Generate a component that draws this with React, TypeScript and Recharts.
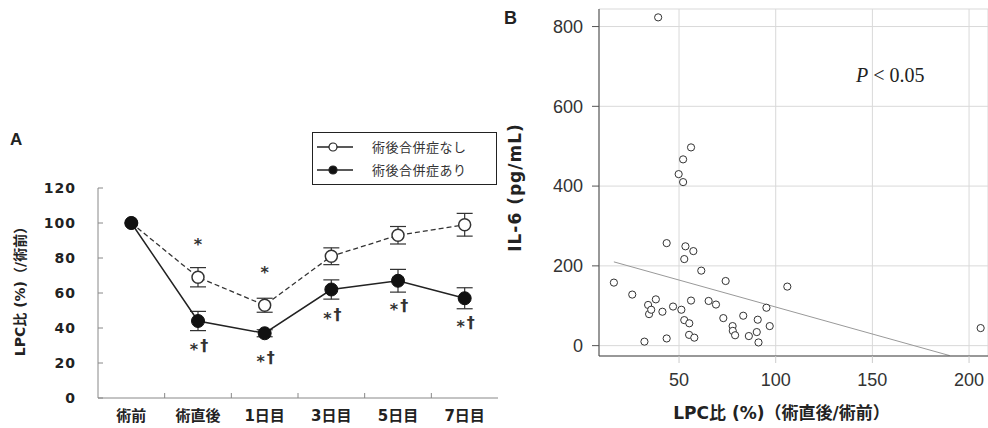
import { CartesianGrid, ErrorBar, Label, Legend, Line, LineChart, ReferenceLine, Scatter, ScatterChart, XAxis, YAxis } from "recharts"

// panel A: LPC ratio over time
const timepoints = ["術前", "術直後", "1日目", "3日目", "5日目", "7日目"]
const noComplication = [100, 69, 53, 81, 93, 99]
const noComplicationSd = [0, 5.5, 4, 4.8, 5, 6.5]
const withComplication = [100, 44, 37, 62, 67, 57]
const withComplicationSd = [0, 5.5, 2, 5.5, 6.5, 6]
const noComplicationMarks = ["", "*", "*", "", "", ""]
const withComplicationMarks = ["", "*†", "*†", "*†", "*†", "*†"]
const seriesNames = ["術後合併症なし", "術後合併症あり"]
const yTicksA = [0, 20, 40, 60, 80, 100, 120]

// panel B: LPC ratio vs IL-6
const lpcRatio = [
  16.3, 25.8, 32.1, 34.0, 34.5, 35.6, 38.0, 41.4, 43.6, 43.6, 46.9, 51.2, 52.7, 53.3,
  52.7, 55.3, 55.2, 56.2, 57.4, 57.9, 61.5, 65.3, 69.1, 72.9, 74.1, 77.7, 77.8, 79.0,
  83.2, 86.1, 90.2, 90.7, 91.1, 95.2, 96.9, 106.0, 206.0, 39.2, 56.2, 52.1, 49.8, 52.1,
]
const il6 = [
  158, 128, 10, 102, 79, 90, 116, 85, 257, 18, 98, 90, 217, 249,
  64, 56, 27, 113, 237, 20, 188, 112, 103, 69, 162, 49, 37, 26,
  75, 24, 34, 65, 8, 95, 49, 148, 44, 823, 497, 467, 430, 410,
]
const fitLine = [
  { x: 16.3, y: 210 },
  { x: 190, y: -25 },
]
const xTicksB = [50, 100, 150, 200]
const yTicksB = [0, 200, 400, 600, 800]

const dataA = timepoints.map((t, i) => ({
  t,
  no: noComplication[i],
  noSd: noComplicationSd[i],
  noMark: noComplicationMarks[i],
  yes: withComplication[i],
  yesSd: withComplicationSd[i],
  yesMark: withComplicationMarks[i],
}))

const dataB = lpcRatio.map((x, i) => ({ x, y: il6[i] }))

const CJK = "'DejaVu Sans', 'Noto Sans CJK JP', sans-serif"
const widthA = 500
const yAxisWidthA = 98
const plotWidthA = widthA - yAxisWidthA - 2
const halfBand = plotWidthA / timepoints.length / 2

function CategoryTick(props: any) {
  const { x, y, payload, index } = props
  return (
    <g>
      {index < timepoints.length - 1 && (
        <line x1={x + halfBand} x2={x + halfBand} y1={y} y2={y - 5} stroke="#888" />
      )}
      <text x={x} y={y + 18} textAnchor="middle" dominantBaseline="central" fontSize={15} fontWeight="bold" fill="#222" fontFamily={CJK}>
        {payload.value}
      </text>
    </g>
  )
}

function ValueTick(props: any) {
  const { x, y, payload } = props
  return (
    <g>
      <line x1={x} x2={x + 5} y1={y} y2={y} stroke="#888" />
      <text x={x - 22} y={y} textAnchor="end" dominantBaseline="central" fontSize={14} fontWeight="bold" letterSpacing={1} fill="#222" fontFamily="'DejaVu Sans', sans-serif">
        {payload.value}
      </text>
    </g>
  )
}

// star sits lower than the dagger, as in the printed figure
function Mark({ x, y, text }: { x: number; y: number; text: string }) {
  const [star, ...rest] = Array.from(text)
  return (
    <text x={x} y={y + 5} textAnchor="middle" fontSize={16} fontWeight="bold" fill="#333" fontFamily={CJK}>
      <tspan dy={4}>{star}</tspan>
      {rest.length > 0 && (
        <tspan dx={2} dy={-4}>
          {rest.join("")}
        </tspan>
      )}
    </text>
  )
}

const openDot = (p: any) => (
  <g key={`o-${p.index}`}>
    <circle cx={p.cx} cy={p.cy} r={6} fill="#fff" stroke="#333" strokeWidth={1.5} />
    {p.payload.noMark ? <Mark x={p.cx} y={p.cy - 36} text={p.payload.noMark} /> : null}
  </g>
)

const filledDot = (p: any) => (
  <g key={`f-${p.index}`}>
    <circle cx={p.cx} cy={p.cy} r={6.5} fill="#111" stroke="#111" strokeWidth={1} />
    {p.payload.yesMark ? <Mark x={p.cx + 1} y={p.cy + 25} text={p.payload.yesMark} /> : null}
  </g>
)

function LegendBox() {
  return (
    <div style={{ border: "1.5px solid #222", boxSizing: "border-box", width: 185, height: 53, paddingTop: 2, background: "#fff" }}>
      {seriesNames.map((name, i) => (
        <div key={name} style={{ display: "flex", alignItems: "center", height: 23 }}>
          <svg width={40} height={12} style={{ marginLeft: 4 }}>
            <line x1={0} x2={36} y1={6} y2={6} stroke="#222" strokeWidth={1.4} />
            <circle cx={16} cy={6} r={4} fill={i === 0 ? "#fff" : "#111"} stroke="#222" strokeWidth={1.2} />
          </svg>
          <span style={{ marginLeft: 15, fontSize: 13, color: "#333", fontFamily: "'Noto Sans CJK JP', sans-serif", lineHeight: "13px", letterSpacing: 0.5 }}>
            {name}
          </span>
        </div>
      ))}
    </div>
  )
}

const yLabelA = (props: any) => {
  const vb = props.viewBox ?? { x: 0, y: 188, width: 98, height: 210 }
  const cx = vb.x + 20
  const cy = vb.y + vb.height / 2 - 5
  return (
    <text x={cx} y={cy} transform={`rotate(-90 ${cx} ${cy})`} textAnchor="middle" dominantBaseline="central" fontSize={14} fontWeight="bold" fill="#222" fontFamily={CJK}>
      LPC比 (%)（/術前）
    </text>
  )
}

const yLabelB = (props: any) => {
  const vb = props.viewBox ?? { x: 0, y: 9, width: 99, height: 347 }
  const cx = vb.x + 15
  const cy = vb.y + vb.height / 2 + 5
  return (
    <text x={cx} y={cy} transform={`rotate(-90 ${cx} ${cy})`} textAnchor="middle" dominantBaseline="central" fontSize={17} fontWeight="bold" letterSpacing={1} fill="#222" fontFamily="'DejaVu Sans', sans-serif">
      IL-6 (pg/mL)
    </text>
  )
}

const xLabelB = (props: any) => {
  const vb = props.viewBox ?? { x: 99, y: 356, width: 389, height: 72 }
  const cx = vb.x + vb.width / 2 - 12
  const cy = vb.y + 57
  return (
    <text x={cx} y={cy} textAnchor="middle" dominantBaseline="central" fontSize={17} fontWeight="bold" fill="#222" fontFamily={CJK}>
      LPC比 (%)（術直後/術前）
    </text>
  )
}

export default function App() {
  return (
    <div style={{ position: "absolute", left: 0, top: 0, width: 988, height: 428, background: "#fff", overflow: "hidden" }}>
      <div style={{ position: "absolute", left: 10, top: 131, fontSize: 17, lineHeight: "17px", fontWeight: "bold", fontFamily: "'Liberation Sans', Arial, sans-serif", color: "#222" }}>
        A
      </div>
      <div style={{ position: "absolute", left: 504, top: 9, fontSize: 18, lineHeight: "18px", fontWeight: "bold", fontFamily: "'Liberation Sans', Arial, sans-serif", color: "#222" }}>
        B
      </div>

      <div style={{ position: "absolute", left: 0, top: 0 }}>
        <LineChart width={widthA} height={428} data={dataA} margin={{ top: 188, right: 2, bottom: 0, left: 0 }}>
          <XAxis dataKey="t" height={30} padding={{ left: halfBand, right: halfBand }} tickSize={0} tickMargin={0} axisLine={{ stroke: "#888" }} tickLine={false} tick={<CategoryTick />} interval={0} />
          <YAxis width={yAxisWidthA} domain={[0, 120]} ticks={yTicksA} tickSize={0} tickMargin={0} axisLine={{ stroke: "#888" }} tickLine={false} tick={<ValueTick />} interval={0}>
            <Label content={yLabelA} />
          </YAxis>
          <Legend verticalAlign="middle" layout="horizontal" content={() => <LegendBox />} wrapperStyle={{ left: 312, top: 132, width: 185, height: 53 }} />
          <Line dataKey="no" name={seriesNames[0]} stroke="#333" strokeWidth={1.3} strokeDasharray="5 3" dot={openDot} isAnimationActive={false}>
            <ErrorBar dataKey="noSd" width={8} stroke="#333" strokeWidth={1.2} direction="y" />
          </Line>
          <Line dataKey="yes" name={seriesNames[1]} stroke="#222" strokeWidth={1.5} dot={filledDot} isAnimationActive={false}>
            <ErrorBar dataKey="yesSd" width={8} stroke="#333" strokeWidth={1.2} direction="y" />
          </Line>
        </LineChart>
      </div>

      <div style={{ position: "absolute", left: 500, top: 0 }}>
        <ScatterChart width={488} height={428} margin={{ top: 9, right: 0, bottom: 0, left: 0 }}>
          <CartesianGrid stroke="#d9d9d9" />
          <XAxis type="number" dataKey="x" domain={[8.6, 209.8]} ticks={xTicksB} allowDataOverflow height={72} tickSize={7} tickMargin={10} axisLine={{ stroke: "#444" }} tickLine={{ stroke: "#ccc" }} tick={{ fontSize: 18, fill: "#333", fontFamily: "'Liberation Sans', Arial, sans-serif" }}>
            <Label content={xLabelB} />
          </XAxis>
          <YAxis type="number" dataKey="y" domain={[-26, 844]} ticks={yTicksB} allowDataOverflow width={99} tickSize={7} tickMargin={9} axisLine={{ stroke: "#444" }} tickLine={{ stroke: "#555" }} tick={{ fontSize: 18, fill: "#333", fontFamily: "'Liberation Sans', Arial, sans-serif" }}>
            <Label content={yLabelB} />
          </YAxis>
          <ReferenceLine segment={fitLine} stroke="#999" strokeWidth={1} ifOverflow="hidden" />
          <Scatter data={dataB} isAnimationActive={false} shape={(p: any) => <circle cx={p.cx} cy={p.cy} r={3.6} fill="#fff" stroke="#333" strokeWidth={1} />} />
        </ScatterChart>
      </div>

      <div style={{ position: "absolute", left: 856, top: 65, fontSize: 20, lineHeight: "20px", fontFamily: "'Liberation Serif', 'Times New Roman', serif", color: "#222", whiteSpace: "nowrap" }}>
        <i>P</i> &lt; 0.05
      </div>
    </div>
  )
}
